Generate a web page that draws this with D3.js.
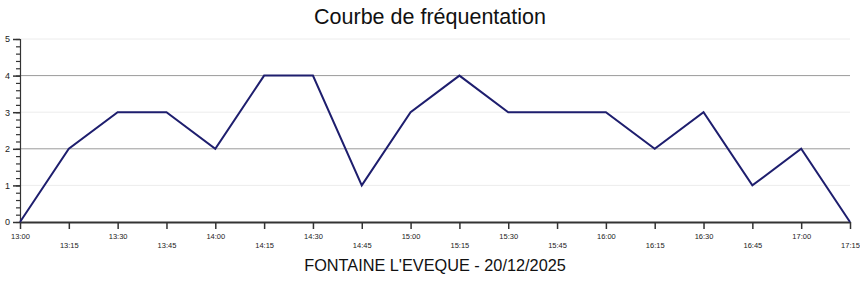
<!DOCTYPE html>
<html lang="fr">
<head>
  <meta charset="UTF-8" />
  <title>Courbe de fréquentation</title>
  <style>
    body { margin: 0; background: #fff; }
    svg { display: block; font-family: "Liberation Sans", Arial, sans-serif; }
    .axis path, .axis line { stroke: #333; }
  </style>
</head>
<body>
  <svg id="chart"></svg>

  <script src="https://d3js.org/d3.v7.min.js"></script>
  <script>
    const times = ["13:00","13:15","13:30","13:45","14:00","14:15","14:30","14:45","15:00",
                   "15:15","15:30","15:45","16:00","16:15","16:30","16:45","17:00","17:15"];
    const visitors = [0, 2, 3, 3, 2, 4, 4, 1, 3, 4, 3, 3, 3, 2, 3, 1, 2, 0];
    const yTicks = [0, 1, 2, 3, 4, 5];
    const title = "Courbe de fréquentation";
    const subtitle = "FONTAINE L'EVEQUE - 20/12/2025";

    const W = 860, H = 284;
    const margin = { top: 39, right: 10, bottom: 62, left: 20 };
    const width = W - margin.left - margin.right;
    const height = H - margin.top - margin.bottom;

    const root = d3.select("#chart").attr("width", W).attr("height", H);

    root.append("text")
      .attr("x", 430).attr("y", 24)
      .attr("text-anchor", "middle")
      .attr("font-size", "21.5px")
      .attr("fill", "#111")
      .text(title);

    root.append("text")
      .attr("x", 435).attr("y", 271)
      .attr("text-anchor", "middle")
      .attr("font-size", "16.3px")
      .attr("fill", "#111")
      .text(subtitle);

    const svg = root.append("g")
      .attr("transform", `translate(${margin.left},${margin.top})`);

    const x = d3.scalePoint().domain(times).range([0, width]);
    const y = d3.scaleLinear().domain([0, 5]).range([height, 0]);

    // grid lines
    svg.selectAll(".grid")
      .data(yTicks.filter(d => d > 0))
      .join("line")
      .attr("class", "grid")
      .attr("x1", 0).attr("x2", width)
      .attr("y1", d => y(d)).attr("y2", d => y(d))
      .attr("stroke", d => d % 2 === 0 ? "#9a9a9a" : "#ececec")
      .attr("stroke-width", 1);

    // minor y ticks
    svg.append("g")
      .attr("class", "axis")
      .call(d3.axisLeft(y).tickValues(d3.range(0, 5.01, 0.2)).tickSize(4).tickFormat(""))
      .call(g => g.select(".domain").remove())
      .selectAll("line").attr("stroke-width", 1.2);

    // major y axis
    svg.append("g")
      .attr("class", "axis")
      .call(d3.axisLeft(y).tickValues(yTicks).tickSize(7).tickPadding(3).tickFormat(d3.format("d")))
      .call(g => g.select(".domain").attr("stroke-width", 1.2))
      .call(g => g.selectAll("line").attr("stroke-width", 1.5))
      .call(g => g.selectAll("text").attr("font-size", "9px").attr("fill", "#222"));

    // x axis
    const xAxis = svg.append("g")
      .attr("class", "axis")
      .attr("transform", `translate(0,${height})`)
      .call(d3.axisBottom(x).tickSize(7).tickPadding(5).tickSizeOuter(0));
    xAxis.select(".domain").attr("stroke-width", 2).attr("stroke", "#555");
    xAxis.selectAll("line").attr("stroke-width", 1.5);
    xAxis.selectAll("text")
      .attr("font-size", "7.5px")
      .attr("fill", "#222")
      .attr("dy", (d, i) => i % 2 === 0 ? "0.71em" : "1.85em");

    const line = d3.line()
      .x((d, i) => x(times[i]))
      .y(d => y(d));

    svg.append("path")
      .datum(visitors)
      .attr("fill", "none")
      .attr("stroke", "#1e1e6e")
      .attr("stroke-width", 2)
      .attr("stroke-linejoin", "miter")
      .attr("d", line);
  </script>
</body>
</html>
